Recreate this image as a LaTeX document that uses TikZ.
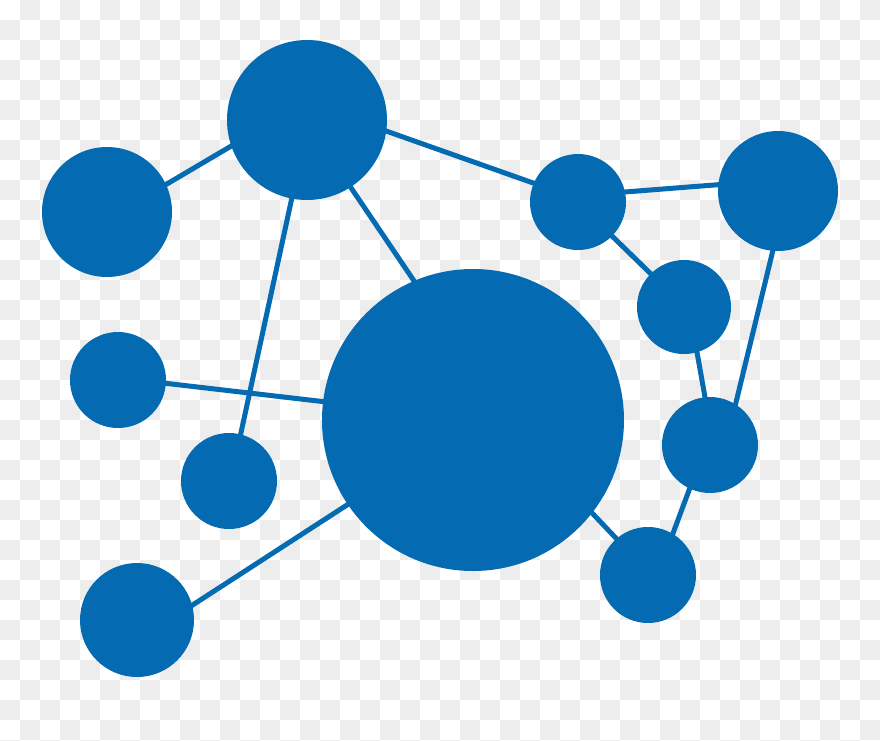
\documentclass[tikz,border=0pt]{standalone}
\definecolor{netblue}{RGB}{4,106,178}
\definecolor{checkgray}{RGB}{237,237,237}
\tikzset{
  blob/.style={circle,fill=netblue,inner sep=0pt,minimum size=2*#1*0.02cm},
  link/.style={netblue,line width=1mm,shorten <=-2pt,shorten >=-2pt}
}
\begin{document}
\begin{tikzpicture}[x=0.02cm,y=-0.02cm]

      \useasboundingbox (0,0) rectangle (880,741);
      % checker background
      \begin{scope}
        \clip (0,0) rectangle (880,741);
        \fill [white] (0,0) rectangle (880,741);
        \foreach\i in {0,1,...,43}
        \foreach\j in {0,1,...,37}
        {
          \pgfmathtruncatemacro{\parity}{mod(\i+\j,2)}
          \ifnum\parity=1 \fill [checkgray] (20*\i,20*\j) rectangle +(20,20); \fi
        }
      \end{scope}

      \node [blob=80] (crown) at (307,120) {};
      \node [blob=65] (west) at (107,212) {};
      \node [blob=48] (mid) at (118,380) {};
      \node [blob=48] (low) at (229,481) {};
      \node [blob=57] (foot) at (137,620) {};
      \node [blob=151] (hub) at (473,420) {};
      \node [blob=48] (east) at (578,202) {};
      \node [blob=60] (cap) at (778,191) {};
      \node [blob=47] (rimA) at (684,307) {};
      \node [blob=48] (rimB) at (710,445) {};
      \node [blob=48] (tail) at (648,575) {};

      \draw [link] (west.25) -- (crown.199);
      \draw [link] (crown.352) -- (east.157);
      \draw [link] (crown.303) -- (hub.113);
      \draw [link] (crown.259) -- (low.76);
      \draw [link] (mid.356) -- (hub.173);
      \draw [link] (foot.15) -- (hub.214);
      \draw [link] (east.12) -- (cap.174);
      \draw [link] (east.315) -- (rimA.135);
      \draw [link] (rimA.286) -- (rimB.96);
      \draw [link] (cap.265) -- (rimB.58);
      \draw [link] (rimB.245) -- (tail.59);
      \draw [link] (hub.322) -- (tail.131);

    \end{tikzpicture}
\end{document}
